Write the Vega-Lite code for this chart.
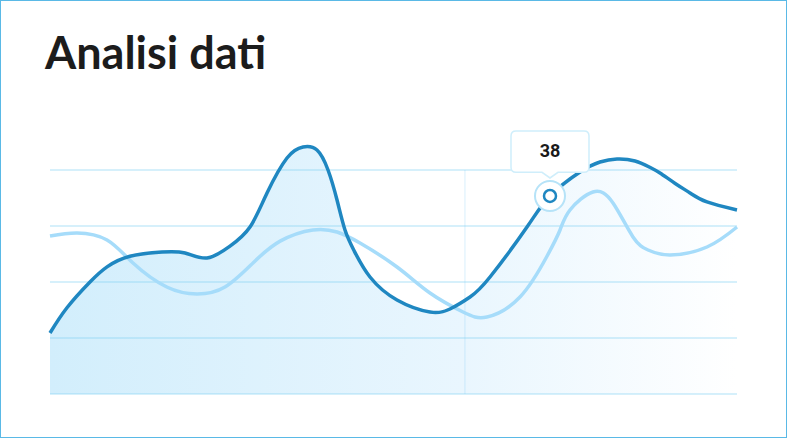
{
  "$schema": "https://vega.github.io/schema/vega-lite/v6.json",
  "width": 787,
  "height": 438,
  "autosize": {"type": "none"},
  "padding": 0,
  "background": "#ffffff",
  "config": {"view": {"stroke": "#5ab9e6", "strokeWidth": 2}},
  "title": {"text": "Analisi dati", "anchor": "start", "frame": "group", "dx": 45, "dy": 43, "offset": -71, "baseline": "alphabetic", "fontSize": 45, "font": "Lato", "fontWeight": 700, "color": "#1c1c1c"},
  "datasets": {
    "dark": [
      {"x": 0, "y": 10.89}, {"x": 2.47, "y": 15.4}, {"x": 5.82, "y": 20.0}, {"x": 8.3, "y": 22.7},
      {"x": 11.64, "y": 24.6}, {"x": 16.3, "y": 25.36}, {"x": 19.65, "y": 25.18}, {"x": 22.85, "y": 24.29},
      {"x": 26.2, "y": 26.4}, {"x": 29.11, "y": 29.82}, {"x": 31.59, "y": 35.89}, {"x": 34.5, "y": 42.14},
      {"x": 36.83, "y": 44.11}, {"x": 38.86, "y": 43.57}, {"x": 40.47, "y": 40.0}, {"x": 41.78, "y": 34.64},
      {"x": 42.94, "y": 29.29}, {"x": 44.3, "y": 25.5}, {"x": 46.58, "y": 20.89}, {"x": 50.51, "y": 16.79},
      {"x": 55.31, "y": 14.64}, {"x": 58.22, "y": 15.18}, {"x": 61.14, "y": 17.32}, {"x": 64.05, "y": 20.89},
      {"x": 69.43, "y": 29.82}, {"x": 72.78, "y": 35.36}, {"x": 77.15, "y": 39.64}, {"x": 80.06, "y": 41.43},
      {"x": 82.53, "y": 41.96}, {"x": 85.15, "y": 41.61}, {"x": 87.3, "y": 40.5}, {"x": 88.79, "y": 39.46},
      {"x": 91.0, "y": 37.6}, {"x": 93.16, "y": 35.9}, {"x": 95.63, "y": 34.29}, {"x": 100, "y": 32.86}
    ],
    "light": [
      {"x": 0, "y": 28.21}, {"x": 3.93, "y": 28.75}, {"x": 8.3, "y": 27.5}, {"x": 12.08, "y": 23.39},
      {"x": 17.0, "y": 19.1}, {"x": 21.4, "y": 17.86}, {"x": 25.47, "y": 19.1}, {"x": 29.55, "y": 23.4},
      {"x": 33.5, "y": 27.3}, {"x": 38.28, "y": 29.3}, {"x": 41.78, "y": 28.93}, {"x": 45.12, "y": 26.96},
      {"x": 50.51, "y": 22.68}, {"x": 55.31, "y": 18.04}, {"x": 60.12, "y": 14.64}, {"x": 63.6, "y": 13.75},
      {"x": 68.41, "y": 17.32}, {"x": 72.34, "y": 24.6},
      {"x": 74.24, "y": 29.29}, {"x": 75.69, "y": 32.86}, {"x": 79.04, "y": 36.07},
      {"x": 81.95, "y": 34.11}, {"x": 84.86, "y": 28.04}, {"x": 87.05, "y": 25.71},
      {"x": 90.25, "y": 24.82}, {"x": 95.63, "y": 26.25}, {"x": 100, "y": 29.82}
    ],
    "grid": [{"y": 0}, {"y": 10}, {"y": 20}, {"y": 30}, {"y": 40}],
    "vline": [{"x": 60.4}],
    "tip": [{"x": 72.78, "y": 35.36, "label": "38"}]
  },
  "layer": [
    {
      "data": {"name": "dark"},
      "mark": {"type": "area", "interpolate": "natural", "fill": {"gradient": "linear", "x1": 0, "y1": 0, "x2": 1, "y2": 0, "stops": [{"offset": 0, "color": "#d2eefc"}, {"offset": 0.6, "color": "#e9f6fe"}, {"offset": 1, "color": "#ffffff"}]}},
      "encoding": {
        "x": {"field": "x", "type": "quantitative", "scale": {"domain": [-7.278, 107.278], "nice": false, "zero": false}, "axis": null},
        "y": {"field": "y", "type": "quantitative", "scale": {"domain": [-7.857, 70.357], "nice": false, "zero": false}, "axis": null},
        "y2": {"datum": 0}
      }
    },
    {
      "data": {"name": "grid"},
      "mark": {"type": "rule", "color": "#7fcff4", "strokeWidth": 2, "strokeOpacity": 0.32},
      "encoding": {
        "x": {"datum": 0, "type": "quantitative"},
        "x2": {"datum": 100},
        "y": {"field": "y", "type": "quantitative"}
      }
    },
    {
      "data": {"name": "vline"},
      "mark": {"type": "rule", "color": "#7fcff4", "strokeWidth": 1.5, "strokeOpacity": 0.2},
      "encoding": {
        "x": {"field": "x", "type": "quantitative"},
        "y": {"datum": 0, "type": "quantitative"},
        "y2": {"datum": 40}
      }
    },
    {
      "data": {"name": "light"},
      "mark": {"type": "line", "interpolate": "natural", "stroke": "#a6dcfa", "strokeWidth": 3.5},
      "encoding": {
        "x": {"field": "x", "type": "quantitative"},
        "y": {"field": "y", "type": "quantitative"}
      }
    },
    {
      "data": {"name": "dark"},
      "mark": {"type": "line", "interpolate": "natural", "stroke": "#1f87c1", "strokeWidth": 3.5},
      "encoding": {
        "x": {"field": "x", "type": "quantitative"},
        "y": {"field": "y", "type": "quantitative"}
      }
    },
    {
      "data": {"name": "tip"},
      "mark": {"type": "point", "filled": true, "fill": "#ffffff", "stroke": "#cfeefb", "strokeWidth": 1.5, "opacity": 1, "size": 25600, "shape": "M -0.425 -0.8125 L 0.425 -0.8125 Q 0.4875 -0.8125 0.4875 -0.75 L 0.4875 -0.359 Q 0.4875 -0.296 0.425 -0.296 L 0.1 -0.296 L 0 -0.225 L -0.1 -0.296 L -0.425 -0.296 Q -0.4875 -0.296 -0.4875 -0.359 L -0.4875 -0.75 Q -0.4875 -0.8125 -0.425 -0.8125 Z"},
      "encoding": {
        "x": {"field": "x", "type": "quantitative"},
        "y": {"field": "y", "type": "quantitative"}
      }
    },
    {
      "data": {"name": "tip"},
      "mark": {"type": "point", "shape": "circle", "filled": true, "fill": "#ffffff", "stroke": "#b6e3f8", "strokeWidth": 2, "opacity": 1, "size": 900},
      "encoding": {
        "x": {"field": "x", "type": "quantitative"},
        "y": {"field": "y", "type": "quantitative"}
      }
    },
    {
      "data": {"name": "tip"},
      "mark": {"type": "point", "shape": "circle", "filled": true, "fill": "#ffffff", "stroke": "#1f87c1", "strokeWidth": 2.5, "opacity": 1, "size": 144},
      "encoding": {
        "x": {"field": "x", "type": "quantitative"},
        "y": {"field": "y", "type": "quantitative"}
      }
    },
    {
      "data": {"name": "tip"},
      "mark": {"type": "text", "dy": -44, "baseline": "middle", "align": "center", "font": "Roboto", "fontWeight": 700, "fontSize": 18, "color": "#1a1a1a"},
      "encoding": {
        "x": {"field": "x", "type": "quantitative"},
        "y": {"field": "y", "type": "quantitative"},
        "text": {"field": "label"}
      }
    }
  ]
}
